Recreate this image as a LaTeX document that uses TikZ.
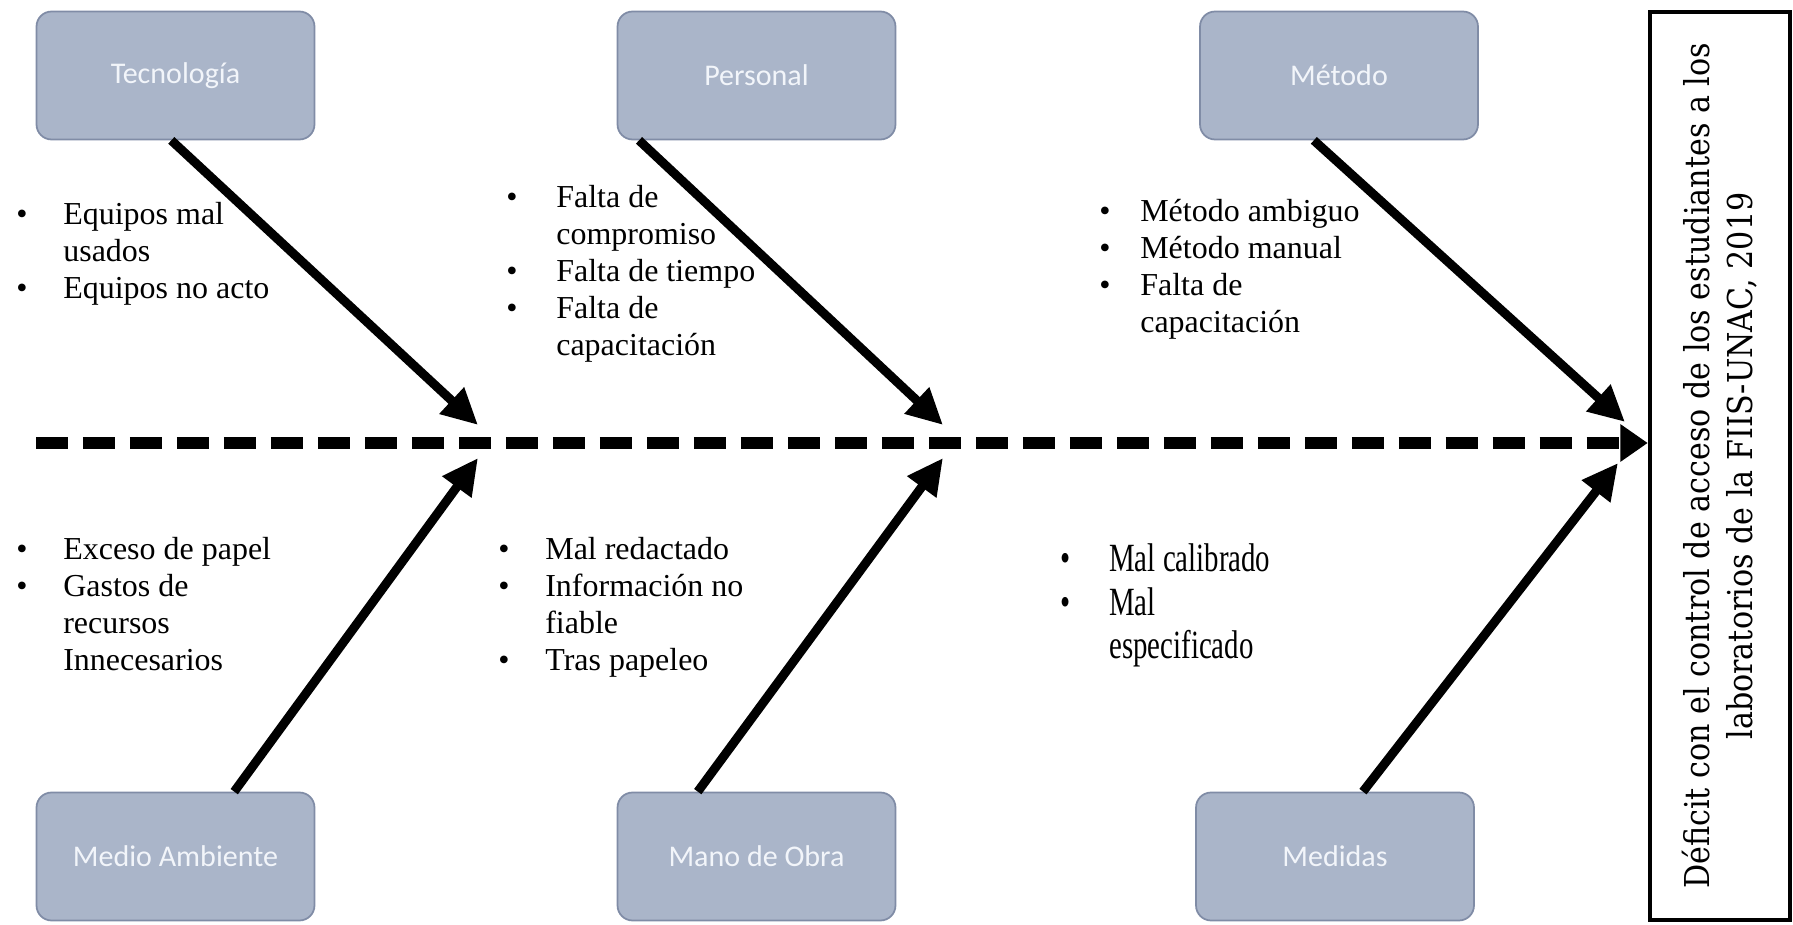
\documentclass[tikz,border=0pt]{standalone}
\usepackage{fontspec}
\setmainfont{Liberation Serif}
\newfontfamily\boxfont{Carlito}
\newfontfamily\narrowfont[FakeStretch=0.72]{Liberation Serif}
\newfontfamily\effectfont[FakeStretch=0.88]{DejaVu Serif}
\usetikzlibrary{arrows.meta,calc}
\definecolor{boxfill}{RGB}{170,181,201}
\definecolor{boxline}{RGB}{128,140,166}
\definecolor{boxtext}{RGB}{242,245,250}

\begin{document}
\begin{tikzpicture}[x=0.02cm, y=-0.02cm,
   category/.style={rectangle, rounded corners=0.3cm, draw=boxline, line width=1pt, fill=boxfill,
     minimum width=5.56cm, minimum height=2.56cm, text=boxtext, font=\boxfont\fontsize{17.1pt}{21pt}\selectfont},
   causes/.style={anchor=base west, inner sep=0pt, font=\fontsize{18.2pt}{21pt}\selectfont},
   bone/.style={line width=0.18cm, -{Triangle[length=0.72cm,width=0.68cm]}},
   spine/.style={line width=0.24cm, dash pattern=on 0.64cm off 0.3cm, -{Triangle[length=0.55cm,width=0.72cm]}}]
   \useasboundingbox (0,0) rectangle (1793,925);
   \node[category] (tec) at (175.5,75.5) {Tecnología};
   \node[category] (per) at (756.5,75.5) {Personal};
   \node[category] (met) at (1339,75.5) {Método};
   \node[category] (amb) at (175.5,856.5) {Medio Ambiente};
   \node[category] (man) at (756.5,856.5) {Mano de Obra};
   \node[category] (med) at (1335,856.5) {Medidas};
   \node[draw, line width=0.09cm, rotate=90, minimum width=18.16cm, minimum height=2.8cm, inner sep=0pt,
     align=center, font=\effectfont\fontsize{19.5pt}{24.5pt}\selectfont] (effect) at (1720,466)
     {Déficit con el control de acceso de los estudiantes a los\\laboratorios de la FIIS-UNAC, 2019};
   \coordinate (tail) at (36,443);
   \coordinate (j1) at (478,425);
   \coordinate (j2) at (943,425);
   \coordinate (j3) at (1625,422);
   \coordinate (k1) at (478,458);
   \coordinate (k2) at (943,458);
   \coordinate (k3) at (1618,463);
   \draw[spine] (tail) -- (effect.north |- tail);
   \draw[bone] ($(tec.south west)!.485!(tec.south east)$) -- (j1);
   \draw[bone] ($(per.south west)!.08!(per.south east)$) -- (j2);
   \draw[bone] ($(met.south west)!.41!(met.south east)$) -- (j3);
   \draw[bone] ($(amb.north west)!.71!(amb.north east)$) -- (k1);
   \draw[bone] ($(man.north west)!.29!(man.north east)$) -- (k2);
   \draw[bone] ($(med.north west)!.60!(med.north east)$) -- (k3);
   \node[causes] (c1) at (16,225) {\begin{tabular}[t]{@{}p{0.94cm}@{}l@{}}
     \textbullet & Equipos mal\\ & usados\\ \textbullet & Equipos no acto\end{tabular}};
   \node[causes] (c2) at (506,208) {\begin{tabular}[t]{@{}p{1.0cm}@{}l@{}}
     \textbullet & Falta de\\ & compromiso\\ \textbullet & Falta de tiempo\\
     \textbullet & Falta de\\ & capacitación\end{tabular}};
   \node[causes] (c3) at (1099,222) {\begin{tabular}[t]{@{}p{0.82cm}@{}l@{}}
     \textbullet & Método ambiguo\\ \textbullet & Método manual\\
     \textbullet & Falta de\\ & capacitación\end{tabular}};
   \node[causes] (c4) at (16,560) {\begin{tabular}[t]{@{}p{0.94cm}@{}l@{}}
     \textbullet & Exceso de papel\\ \textbullet & Gastos de\\ & recursos\\ & Innecesarios\end{tabular}};
   \node[causes] (c5) at (498,560) {\begin{tabular}[t]{@{}p{0.94cm}@{}l@{}}
     \textbullet & Mal redactado\\ \textbullet & Información no\\ & fiable\\
     \textbullet & Tras papeleo\end{tabular}};
   \node[causes, font=\narrowfont\fontsize{22.8pt}{24.5pt}\selectfont] (c6) at (1060,572)
     {\begin{tabular}[t]{@{}p{0.98cm}@{}l@{}}
     \textbullet & Mal calibrado\\ \textbullet & Mal\\ & especificado\end{tabular}};
\end{tikzpicture}
\end{document}
